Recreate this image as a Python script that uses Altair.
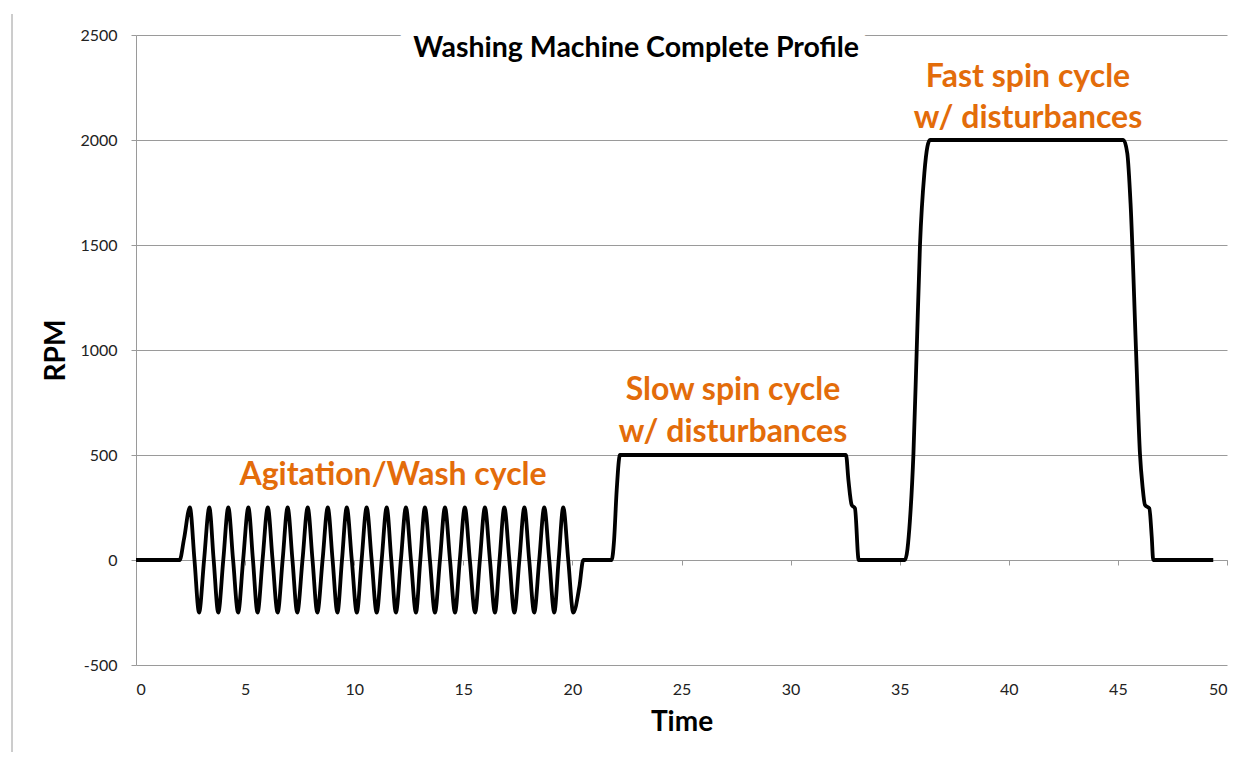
import altair as alt
import pandas as pd

# ---- data ----
time = [0, 2.0, 2.2,
        2.47, 2.68, 2.89, 3.12, 3.36, 3.56, 3.77, 4.0, 4.23, 4.45, 4.68, 4.91,
        5.15, 5.36, 5.57, 5.8, 6.04, 6.26, 6.49, 6.72, 6.95, 7.17, 7.39, 7.63,
        7.87, 8.09, 8.31, 8.55, 8.79, 9.01, 9.23, 9.44, 9.66, 9.89, 10.12, 10.34,
        10.57, 10.8, 11.03, 11.26, 11.49, 11.7, 11.91, 12.14, 12.37, 12.6, 12.83, 13.03,
        13.24, 13.47, 13.7, 13.93, 14.16, 14.39, 14.62, 14.84, 15.07, 15.3, 15.54, 15.76,
        15.99, 16.22, 16.45, 16.66, 16.88, 17.11, 17.34, 17.57, 17.8, 18.02, 18.25, 18.48,
        18.71, 18.94, 19.17, 19.37, 19.58, 19.81, 20.04, 20.32, 20.5,
        21.8, 21.91, 22.03, 22.18, 32.54, 32.65, 32.8, 32.95, 33.12,
        35.24, 35.47, 35.63, 35.78, 35.93, 36.13, 36.27, 36.39,
        45.25, 45.43, 45.58, 45.83, 46.01, 46.13, 46.24, 46.44, 46.55, 46.62, 49.37]
rpm = [0, 0, 100,
       250, 0, -250, 0, 250, 0, -250, 0, 250, 0, -250, 0,
       250, 0, -250, 0, 250, 0, -250, 0, 250, 0, -250, 0,
       250, 0, -250, 0, 250, 0, -250, 0, 250, 0, -250, 0,
       250, 0, -250, 0, 250, 0, -250, 0, 250, 0, -250, 0,
       250, 0, -250, 0, 250, 0, -250, 0, 250, 0, -250, 0,
       250, 0, -250, 0, 250, 0, -250, 0, 250, 0, -250, 0,
       250, 0, -250, 0, 250, 0, -250, -127, 0,
       0, 95, 333, 500, 500, 381, 262, 246, 0,
       0, 190, 508, 1000, 1500, 1842, 1968, 2000,
       2000, 1937, 1698, 1000, 508, 349, 262, 246, 111, 0, 0]

x_ticks = [0, 5, 10, 15, 20, 25, 30, 35, 40, 45, 50]
y_ticks = [-500, 0, 500, 1000, 1500, 2000, 2500]

chart_title = "Washing Machine Complete Profile"
title_x = [22.92]
title_y = [2440]

ann_text = ["Agitation/Wash cycle", "Slow spin cycle", "w/ disturbances",
            "Fast spin cycle", "w/ disturbances"]
ann_x = [11.78, 27.36, 27.36, 40.88, 40.88]
ann_y = [405, 810, 610, 2300, 2105]

FONT = "Lato"
ORANGE = "#E36C0A"
GRID = "#9a9a9a"

df = pd.DataFrame({"Time": time, "RPM": rpm})
ann_df = pd.DataFrame({"Time": ann_x, "RPM": ann_y, "label": ann_text})
title_df = pd.DataFrame({"Time": title_x, "RPM": title_y, "label": [chart_title]})

xscale = alt.Scale(domain=[0, 50], nice=False, zero=False)
yscale = alt.Scale(domain=[-500, 2500], nice=False, zero=False)

line = alt.Chart(df).mark_line(color="black", strokeWidth=3.8, interpolate="monotone").encode(
    x=alt.X("Time:Q", scale=xscale,
            axis=alt.Axis(values=x_ticks, title="Time", grid=False, domain=False, ticks=False,
                          labelFont=FONT, labelFontSize=16, labelColor="#222", labelPadding=16,
                          titleFont=FONT, titleFontSize=28, titleFontWeight="bold",
                          titleColor="black", titlePadding=11, orient="bottom")),
    y=alt.Y("RPM:Q", scale=yscale,
            axis=alt.Axis(values=y_ticks, title="RPM", grid=True, gridColor=GRID, gridWidth=1,
                          domain=True, domainColor=GRID, ticks=True, tickColor=GRID, tickSize=5,
                          labelFont=FONT, labelFontSize=16, labelColor="#222", labelPadding=14,
                          labelExpr="'' + datum.value",
                          titleFont=FONT, titleFontSize=28, titleFontWeight="bold",
                          titleColor="black", titlePadding=9)),
)

zero_axis = alt.Chart(df).mark_line(opacity=0).encode(
    x=alt.X("Time:Q", scale=xscale,
            axis=alt.Axis(values=x_ticks, title=None, grid=False, labels=False, domain=True,
                          domainColor=GRID, ticks=True, tickColor=GRID, tickSize=5,
                          orient="bottom", offset=-105)),
    y=alt.Y("RPM:Q", scale=yscale),
)

ann = alt.Chart(ann_df).mark_text(font=FONT, fontSize=32, fontWeight="bold", color=ORANGE).encode(
    x=alt.X("Time:Q", scale=xscale, axis=None), y=alt.Y("RPM:Q", scale=yscale),
    text="label:N")

ttl_bg = alt.Chart(title_df).mark_text(font=FONT, fontSize=28.5, fontWeight="bold", color="white",
                                       stroke="white", strokeWidth=24).encode(
    x=alt.X("Time:Q", scale=xscale, axis=None), y=alt.Y("RPM:Q", scale=yscale),
    text="label:N")

ttl = alt.Chart(title_df).mark_text(font=FONT, fontSize=28.5, fontWeight="bold", color="black").encode(
    x=alt.X("Time:Q", scale=xscale, axis=None), y=alt.Y("RPM:Q", scale=yscale),
    text="label:N")

border = alt.Chart(title_df).mark_rule(color="#9a9a9a", strokeWidth=1).encode(
    x=alt.value(-124), y=alt.value(-21), y2=alt.value(745))

chart = alt.layer(line, zero_axis, ann, ttl_bg, ttl, border).resolve_axis(x="independent").properties(
    width=1091, height=630,
    padding={"left": 128, "top": 27, "right": 13, "bottom": 87},
    autosize=alt.AutoSizeParams(type="none"),
    background="white",
).configure_view(strokeWidth=0)

chart.save("out.html", embed_options={"renderer": "svg", "actions": False})
